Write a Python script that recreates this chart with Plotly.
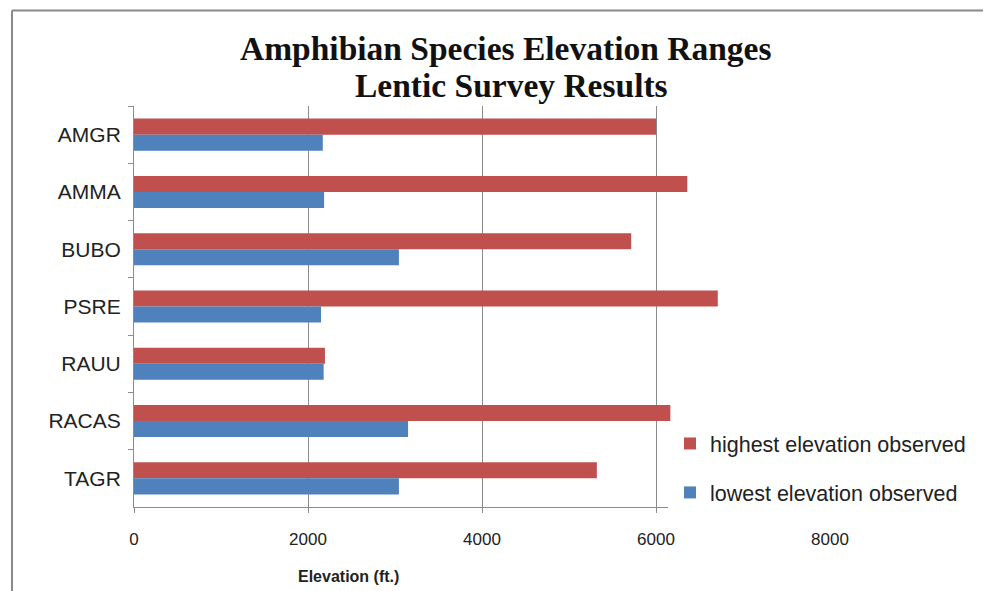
import plotly.graph_objects as go

categories = ["AMGR", "AMMA", "BUBO", "PSRE", "RAUU", "RACAS", "TAGR"]
highest = [6000, 6360, 5715, 6710, 2195, 6165, 5320]
lowest = [2170, 2185, 3045, 2150, 2180, 3150, 3045]
x_ticks = [0, 2000, 4000, 6000, 8000]

# the page body has an 8px margin; the figure is sized to fill the rest of the window
OFF = 8
W, H = 991 - OFF, 591 - OFF
L, R, T, B = 134 - OFF, 161, 106 - OFF, 84
pw, ph = W - L - R, H - T - B

def px(x):
    return (x - OFF - L) / pw

def py(y):
    return (H - B - (y - OFF)) / ph

fig = go.Figure()
fig.add_trace(go.Bar(y=categories, x=highest, orientation="h",
                     name="highest elevation observed",
                     marker=dict(color="#C0504D", line=dict(width=0)),
                     legendgroup="a"))
fig.add_trace(go.Bar(y=categories, x=lowest, orientation="h",
                     name="lowest elevation observed",
                     marker=dict(color="#4F81BD", line=dict(width=0)),
                     legendgroup="b"))

grid = "#8C8C8C"
fig.update_layout(
    width=W, height=H,
    margin=dict(l=L, r=R, t=T, b=B, autoexpand=False),
    paper_bgcolor="white", plot_bgcolor="white",
    barmode="group", bargap=0.44, bargroupgap=0,
    showlegend=True,
    legend=dict(x=px(670), y=py(423), xanchor="left", yanchor="top",
                bgcolor="rgba(0,0,0,0)", borderwidth=0, tracegroupgap=18,
                font=dict(family="Liberation Sans, Arial, sans-serif", size=21.5, color="#222"),
                traceorder="grouped"),
    xaxis=dict(range=[0, 8000], tickvals=x_ticks, ticktext=[str(v) for v in x_ticks],
               showgrid=True, gridcolor=grid, gridwidth=1,
               showline=True, linecolor=grid, linewidth=1,
               ticks="outside", ticklen=5, tickcolor=grid,
               zeroline=False, ticklabelstandoff=12,
               tickfont=dict(family="Liberation Sans, Arial, sans-serif",
                             size=17, color="#222")),
    yaxis=dict(autorange="reversed", showgrid=False, showline=True,
               linecolor=grid, linewidth=1, ticks="outside", ticklen=5,
               tickcolor=grid, tickson="boundaries", ticklabelstandoff=8,
               tickfont=dict(family="Liberation Sans, Arial, sans-serif", size=21, color="#222")),
)

fig.add_annotation(text="<b>Amphibian Species Elevation Ranges</b>", xref="paper", yref="paper",
                   x=px(506), y=py(48.5), xanchor="center", yanchor="middle", showarrow=False,
                   font=dict(family="Liberation Serif, Times New Roman, serif", size=33.5, color="#111"))
fig.add_annotation(text="<b>Lentic Survey Results</b>", xref="paper", yref="paper",
                   x=px(511), y=py(85.5), xanchor="center", yanchor="middle", showarrow=False,
                   font=dict(family="Liberation Serif, Times New Roman, serif", size=33.5, color="#111"))
fig.add_annotation(text="<b>Elevation (ft.)</b>", xref="paper", yref="paper",
                   x=px(348), y=py(576), xanchor="center", yanchor="middle", showarrow=False,
                   font=dict(family="Liberation Sans, Arial, sans-serif", size=16, color="#222"))

# white box hiding axis line / gridline behind the legend area (as in reference)
fig.add_shape(type="rect", xref="paper", yref="paper", x0=px(668), x1=px(995), y0=py(525), y1=py(424),
              fillcolor="white", line=dict(width=0), layer="above")
# chart frame (top and left edges)
fig.add_shape(type="line", xref="paper", yref="paper", x0=px(12), x1=px(1000), y0=py(10.5), y1=py(10.5),
              line=dict(color="#8A8A8A", width=2), layer="above")
fig.add_shape(type="line", xref="paper", yref="paper", x0=px(12), x1=px(12), y0=py(10.5), y1=py(600),
              line=dict(color="#8A8A8A", width=2), layer="above")

fig.write_html("out.html")
